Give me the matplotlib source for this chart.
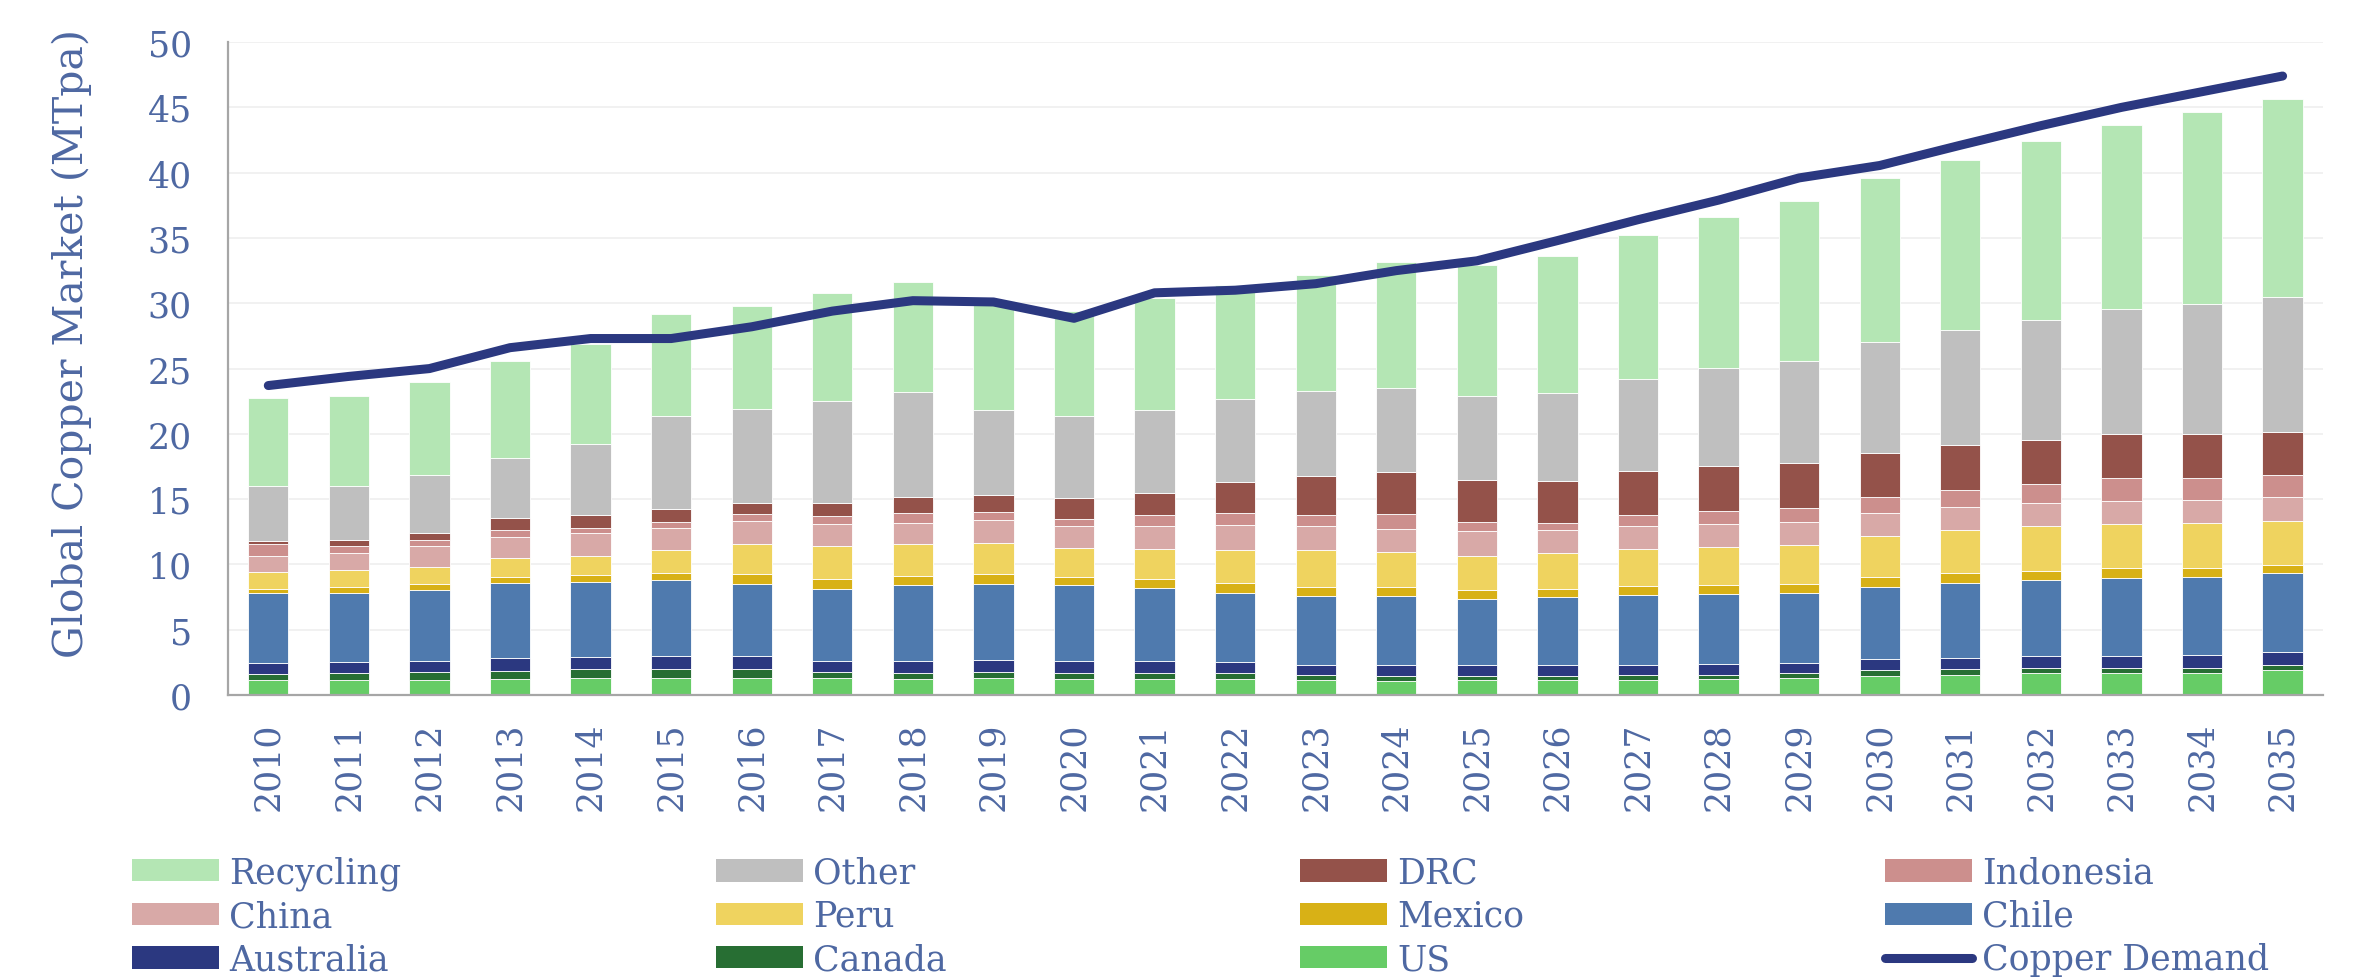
"""Global copper market: supply by source vs demand, 2010-2035."""
import numpy as np
import matplotlib
matplotlib.use("Agg")
import matplotlib.pyplot as plt
from matplotlib.patches import Patch
from matplotlib.lines import Line2D

TEXT = "#4E68A2"

plt.rcParams.update({
    "font.family": ["DejaVu Serif"],
    "font.size": 25,
    "text.color": TEXT,
    "axes.labelcolor": TEXT,
    "xtick.color": TEXT,
    "ytick.color": TEXT,
})

years = list(range(2010, 2036))

# supply by source, MTpa (stacked bottom -> top)
us = [1.13, 1.13, 1.13, 1.23, 1.34, 1.34, 1.34, 1.27, 1.20, 1.27, 1.20, 1.20, 1.20,
      1.13, 1.06, 1.13, 1.13, 1.13, 1.20, 1.27, 1.48, 1.55, 1.69, 1.69, 1.69, 1.90]
canada = [0.46, 0.53, 0.60, 0.64, 0.66, 0.66, 0.66, 0.53, 0.49, 0.53, 0.49, 0.49, 0.49,
          0.42, 0.42, 0.35, 0.35, 0.42, 0.35, 0.42, 0.46, 0.45, 0.39, 0.39, 0.39, 0.43]
australia = [0.88, 0.88, 0.88, 0.99, 0.93, 1.00, 1.00, 0.81, 0.92, 0.88, 0.92, 0.92, 0.85,
             0.78, 0.85, 0.85, 0.85, 0.78, 0.85, 0.78, 0.85, 0.86, 0.92, 0.92, 0.99, 0.95]
chile = [5.36, 5.29, 5.46, 5.74, 5.74, 5.78, 5.53, 5.50, 5.82, 5.85, 5.78, 5.61, 5.29,
         5.29, 5.29, 5.04, 5.15, 5.36, 5.36, 5.36, 5.50, 5.74, 5.82, 5.96, 5.96, 6.03]
mexico = [0.28, 0.46, 0.46, 0.43, 0.53, 0.56, 0.77, 0.78, 0.67, 0.71, 0.64, 0.67, 0.74,
          0.67, 0.67, 0.67, 0.67, 0.67, 0.67, 0.67, 0.74, 0.71, 0.67, 0.77, 0.70, 0.63]
peru = [1.30, 1.27, 1.31, 1.47, 1.45, 1.76, 2.30, 2.50, 2.43, 2.43, 2.22, 2.29, 2.53,
        2.81, 2.68, 2.64, 2.71, 2.82, 2.89, 2.96, 3.13, 3.31, 3.45, 3.39, 3.46, 3.42]
china = [1.24, 1.30, 1.58, 1.60, 1.76, 1.70, 1.73, 1.73, 1.66, 1.73, 1.69, 1.76, 1.90,
         1.84, 1.76, 1.87, 1.80, 1.76, 1.80, 1.80, 1.80, 1.80, 1.76, 1.76, 1.76, 1.80]
indonesia = [0.88, 0.56, 0.46, 0.56, 0.39, 0.46, 0.53, 0.60, 0.77, 0.63, 0.56, 0.85, 0.96,
             0.85, 1.13, 0.71, 0.53, 0.85, 0.98, 1.09, 1.20, 1.31, 1.48, 1.76, 1.69, 1.69]
drc = [0.28, 0.46, 0.53, 0.88, 0.95, 1.02, 0.88, 0.98, 1.17, 1.27, 1.56, 1.69, 2.33,
       2.96, 3.21, 3.17, 3.17, 3.35, 3.46, 3.45, 3.39, 3.42, 3.32, 3.32, 3.32, 3.28]
other = [4.23, 4.16, 4.41, 4.62, 5.47, 7.12, 7.16, 7.80, 8.04, 6.53, 6.34, 6.35, 6.38,
         6.52, 6.45, 6.45, 6.77, 7.05, 7.48, 7.76, 8.50, 8.81, 9.24, 9.62, 10.01, 10.37]
recycling = [6.70, 6.84, 7.12, 7.40, 7.68, 7.76, 7.90, 8.30, 8.43, 8.37, 8.04, 8.60, 8.75,
             8.92, 9.66, 10.02, 10.51, 11.07, 11.60, 12.27, 12.58, 13.04, 13.68, 14.04, 14.67, 15.13]

demand = [23.7, 24.4, 25.0, 26.6, 27.3, 27.3, 28.2, 29.4, 30.2, 30.1, 28.85, 30.8, 31.0,
          31.5, 32.5, 33.25, 34.8, 36.4, 37.9, 39.6, 40.55, 42.1, 43.6, 45.0, 46.2, 47.4]

series = [
    ("US", us, "#66CC66"),
    ("Canada", canada, "#276E33"),
    ("Australia", australia, "#2B3880"),
    ("Chile", chile, "#4F7AAE"),
    ("Mexico", mexico, "#D8B116"),
    ("Peru", peru, "#EFD35F"),
    ("China", china, "#D8A9A7"),
    ("Indonesia", indonesia, "#CC8F8D"),
    ("DRC", drc, "#94524A"),
    ("Other", other, "#BFBFBF"),
    ("Recycling", recycling, "#B4E6B4"),
]
DEMAND_COLOR = "#2B3880"

fig = plt.figure(figsize=(23.8, 9.79), dpi=100)
ax = fig.add_axes([0.0958, 0.289, 0.8802, 0.667])

x = np.arange(len(years))
bottom = np.zeros(len(years))
for name, vals, color in series:
    vals = np.array(vals)
    ax.bar(x, vals, bottom=bottom, width=0.5, color=color,
           edgecolor="white", linewidth=0.6, zorder=2)
    bottom += vals

ax.plot(x, demand, color=DEMAND_COLOR, lw=6.5, solid_capstyle="round",
        solid_joinstyle="round", zorder=3)

ax.set_xlim(-0.5, len(years) - 0.5)
ax.set_ylim(0, 50)
ax.set_yticks(range(0, 51, 5))
ax.set_xticks(x)
ax.set_xticklabels([str(y) for y in years], rotation=90)
ax.tick_params(axis="y", length=0, pad=26)
ax.tick_params(axis="x", length=0, pad=19)
ax.grid(axis="y", color="#EFEFEF", lw=1.2, zorder=0)
ax.set_axisbelow(True)

for s in ("top", "right"):
    ax.spines[s].set_visible(False)
for s in ("left", "bottom"):
    ax.spines[s].set_color("#A6A6A6")
    ax.spines[s].set_linewidth(1.6)

ax.set_ylabel("Global Copper Market (MTpa)", fontsize=29.5)
ax.yaxis.set_label_coords(-0.065, 0.54)

# legend: 4 columns, row order as in the source
colors = {name: c for name, _, c in series}
patch = lambda n: Patch(facecolor=colors[n], edgecolor="none", label=n)
columns = [
    [patch("Recycling"), patch("China"), patch("Australia")],
    [patch("Other"), patch("Peru"), patch("Canada")],
    [patch("DRC"), patch("Mexico"), patch("US")],
    [patch("Indonesia"), patch("Chile"),
     Line2D([], [], color=DEMAND_COLOR, lw=6.5, solid_capstyle="round",
            label="Copper Demand")],
]
col_x = [132, 716, 1300, 1885]
for cx, handles in zip(col_x, columns):
    fig.legend(handles=handles, loc="center left",
               bbox_to_anchor=(cx / 2380, (979 - 917) / 979),
               frameon=False, fontsize=25, borderpad=0, borderaxespad=0,
               handlelength=2.5, handleheight=0.62, handletextpad=0.3,
               labelspacing=0.27, labelcolor=TEXT)

fig.savefig("out.png", dpi=100)
